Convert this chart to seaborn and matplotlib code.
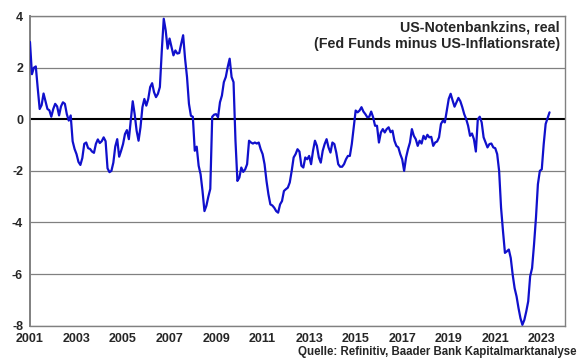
import numpy as np
import pandas as pd
import matplotlib
matplotlib.use("Agg")
import matplotlib.pyplot as plt
import seaborn as sns

# monthly real Fed Funds rate (Fed Funds minus CPI inflation)
start_year = 2001
vals_2001 = [3.0, 1.75, 2.0, 2.05, 1.2, 0.4, 0.55, 1.0, 0.7, 0.4, 0.35, 0.1]
vals_2002 = [0.4, 0.6, 0.5, 0.15, 0.5, 0.66, 0.6, 0.2, -0.05, 0.15, -0.85, -1.15]
vals_2003 = [-1.35, -1.65, -1.77, -1.5, -0.95, -0.9, -1.12, -1.15, -1.25, -1.3, -0.95, -0.78]
vals_2004 = [-0.92, -0.85, -0.7, -0.85, -1.9, -2.05, -2.0, -1.68, -1.05, -0.77, -1.45, -1.22]
vals_2005 = [-0.96, -0.57, -0.42, -0.77, -0.05, 0.7, 0.2, -0.44, -0.83, -0.31, 0.47, 0.79]
vals_2006 = [0.53, 0.79, 1.25, 1.4, 1.05, 0.86, 0.99, 1.25, 2.67, 3.9, 3.45, 2.74]
vals_2007 = [3.13, 2.8, 2.48, 2.67, 2.55, 2.57, 2.93, 3.26, 2.35, 1.64, 0.6, 0.14]
vals_2008 = [0.1, -1.22, -1.06, -1.8, -2.13, -2.78, -3.56, -3.35, -3.0, -2.7, 0.1, 0.18]
vals_2009 = [0.2, 0.08, 0.66, 0.92, 1.44, 1.64, 2.03, 2.35, 1.64, 1.44, -0.83, -2.39]
vals_2010 = [-2.26, -1.87, -2.04, -1.94, -1.74, -0.83, -0.9, -0.94, -0.9, -0.94, -0.9, -1.16]
vals_2011 = [-1.35, -1.74, -2.39, -2.91, -3.3, -3.34, -3.43, -3.56, -3.62, -3.3, -3.17, -2.78]
vals_2012 = [-2.71, -2.65, -2.45, -2.0, -1.48, -1.35, -1.16, -1.25, -1.8, -1.87, -1.48, -1.55]
vals_2013 = [-1.42, -1.74, -1.22, -0.83, -1.03, -1.48, -1.68, -1.22, -0.96, -0.77, -1.09, -1.29]
vals_2014 = [-0.9, -0.96, -1.29, -1.74, -1.84, -1.84, -1.74, -1.55, -1.42, -1.42, -0.96, -0.31]
vals_2015 = [0.34, 0.27, 0.34, 0.47, 0.3, 0.2, 0.08, 0.1, 0.3, 0.08, -0.25, -0.25]
vals_2016 = [-0.9, -0.51, -0.38, -0.51, -0.38, -0.31, -0.5, -0.44, -0.83, -1.03, -1.09, -1.35]
vals_2017 = [-1.55, -2.0, -1.48, -1.16, -0.9, -0.38, -0.64, -0.77, -1.03, -0.83, -0.94, -0.64]
vals_2018 = [-0.77, -0.6, -0.7, -0.68, -1.03, -0.9, -0.86, -0.7, -0.18, -0.05, -0.12, 0.34]
vals_2019 = [0.79, 0.99, 0.73, 0.49, 0.66, 0.83, 0.7, 0.47, 0.2, 0.01, -0.25, -0.64]
vals_2020 = [-0.55, -0.77, -1.25, 0.0, 0.1, -0.12, -0.7, -0.9, -1.09, -0.96, -0.94, -1.09]
vals_2021 = [-1.12, -1.35, -2.0, -3.43, -4.34, -5.18, -5.12, -5.05, -5.38, -6.03, -6.55, -6.87]
vals_2022 = [-7.32, -7.71, -7.97, -7.78, -7.45, -7.06, -6.09, -5.77, -4.86, -3.82, -2.52, -2.0]
vals_2023 = [-1.94, -0.96, -0.18, 0.05, 0.27]

tick_years = list(range(2001, 2024, 2))
y_ticks = [-8, -6, -4, -2, 0, 2, 4]

series = (vals_2001 + vals_2002 + vals_2003 + vals_2004 + vals_2005 + vals_2006
          + vals_2007 + vals_2008 + vals_2009 + vals_2010 + vals_2011 + vals_2012
          + vals_2013 + vals_2014 + vals_2015 + vals_2016 + vals_2017 + vals_2018
          + vals_2019 + vals_2020 + vals_2021 + vals_2022 + vals_2023)
df = pd.DataFrame({"date": start_year + np.arange(len(series)) / 12.0,
                   "real_rate": series})

sns.set_style("white")
plt.rcParams["font.family"] = ["Liberation Sans", "DejaVu Sans"]

fig = plt.figure(figsize=(5.8, 3.59), dpi=100)
ax = fig.add_axes([0.0517, 0.093, 0.9225, 0.862])

for yv in y_ticks:
    if yv != 0:
        ax.axhline(yv, color="#808080", lw=0.9, zorder=1)
ax.axhline(0, color="black", lw=1.5, zorder=2)

sns.lineplot(data=df, x="date", y="real_rate", ax=ax, color="#1010cc", lw=1.6, zorder=3)

ax.set_xlim(2001, 2024)
ax.set_ylim(-8, 4)
ax.set_xticks(tick_years)
ax.set_xticklabels([str(y) for y in tick_years], fontweight="bold", fontsize=9)
ax.set_yticks(y_ticks)
ax.set_yticklabels([str(y) for y in y_ticks], fontweight="bold", fontsize=9)
ax.set_xlabel("")
ax.set_ylabel("")
ax.tick_params(axis="x", direction="inout", length=5, width=0.9, color="#808080", pad=3)
ax.tick_params(axis="y", direction="out", length=2, width=0.9, color="#808080", pad=3)

for side in ["left", "bottom", "right", "top"]:
    ax.spines[side].set_color("#808080")
    ax.spines[side].set_linewidth(1.0)
ax.spines["left"].set_linewidth(1.4)

ax.text(0.99, 0.985, "US-Notenbankzins, real\n(Fed Funds minus US-Inflationsrate)",
        transform=ax.transAxes, ha="right", va="top", fontsize=10.3,
        fontweight="bold", linespacing=1.2)

fig.text(0.994, 0.002, "Quelle: Refinitiv, Baader Bank Kapitalmarktanalyse",
         ha="right", va="bottom", fontsize=8.3, fontweight="bold")

fig.savefig("out.png", dpi=100)
